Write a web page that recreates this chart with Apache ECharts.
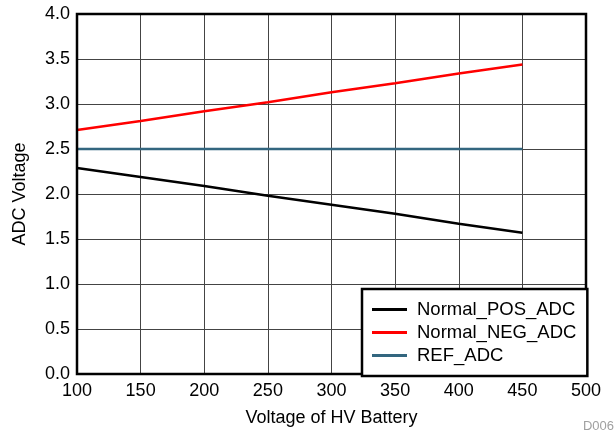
<!DOCTYPE html>
<html>
<head>
<meta charset="utf-8">
<script src="https://cdn.jsdelivr.net/npm/echarts@6/dist/echarts.min.js"></script>
<style>
  html, body { margin: 0; padding: 0; background: #fff; }
</style>
</head>
<body>
<div id="chart" style="width: 616px;height: 436px"></div>
<script>
// values
var hvVoltage = [100, 150, 200, 250, 300, 350, 400, 450];
var posAdc = [2.29, 2.19, 2.09, 1.98, 1.88, 1.78, 1.67, 1.57];
var negAdc = [2.71, 2.81, 2.92, 3.02, 3.13, 3.23, 3.34, 3.44];
var refAdc = [2.5, 2.5, 2.5, 2.5, 2.5, 2.5, 2.5, 2.5];
var seriesNames = ['Normal_POS_ADC', 'Normal_NEG_ADC', 'REF_ADC'];
var seriesColors = ['#000000', '#ff0000', '#33667f'];

function pairs(ys) {
  return hvVoltage.map(function (x, i) { return [x, ys[i]]; });
}

var font = 'Liberation Sans, Arial, Helvetica, sans-serif';
var allValues = [posAdc, negAdc, refAdc];

var option = {
  animation: false,
  backgroundColor: '#fff',
  grid: {
    left: 77, top: 14, right: 30, bottom: 62,
    show: true, borderColor: '#000', borderWidth: 2.5, z: 10
  },
  xAxis: {
    type: 'value', min: 100, max: 500, interval: 50,
    name: 'Voltage of HV Battery', nameLocation: 'middle', nameGap: 35,
    nameTextStyle: { fontFamily: font, fontSize: 18, color: '#000' },
    axisLine: { show: false },
    axisTick: { show: false },
    axisLabel: { fontFamily: font, fontSize: 18, color: '#000', margin: 8 },
    splitLine: { show: true, lineStyle: { color: '#444', width: 1 } }
  },
  yAxis: {
    type: 'value', min: 0, max: 4, interval: 0.5,
    name: 'ADC Voltage', nameLocation: 'middle', nameGap: 48,
    nameTextStyle: { fontFamily: font, fontSize: 18, color: '#000' },
    axisLine: { show: false },
    axisTick: { show: false },
    axisLabel: {
      fontFamily: font, fontSize: 18, color: '#000', margin: 7,
      formatter: function (v) { return v.toFixed(1); }
    },
    splitLine: { show: true, lineStyle: { color: '#444', width: 1 } }
  },
  legend: {
    orient: 'vertical',
    left: 362, top: 289,
    padding: [11, 11, 11, 10],
    itemWidth: 35, itemHeight: 3, itemGap: 4,
    backgroundColor: '#fff',
    borderColor: '#000', borderWidth: 2.5,
    textStyle: { fontFamily: font, fontSize: 18.5, color: '#000', padding: [0, 0, 0, 5] },
    data: seriesNames.map(function (n) { return { name: n, icon: 'rect' }; }),
    itemStyle: { borderWidth: 0 },
    z: 20
  },
  series: seriesNames.map(function (n, i) {
    return {
      name: n, type: 'line',
      data: pairs(allValues[i]),
      showSymbol: false, symbol: 'none',
      color: seriesColors[i],
      lineStyle: { color: seriesColors[i], width: 2.5 },
      z: 5
    };
  }),
  graphic: [{
    type: 'text', right: 2, bottom: 3,
    style: { text: 'D006', fill: '#a0a0a0', font: '13px ' + font }
  }]
};

var chart = echarts.init(document.getElementById('chart'));
chart.setOption(option);
</script>
</body>
</html>
